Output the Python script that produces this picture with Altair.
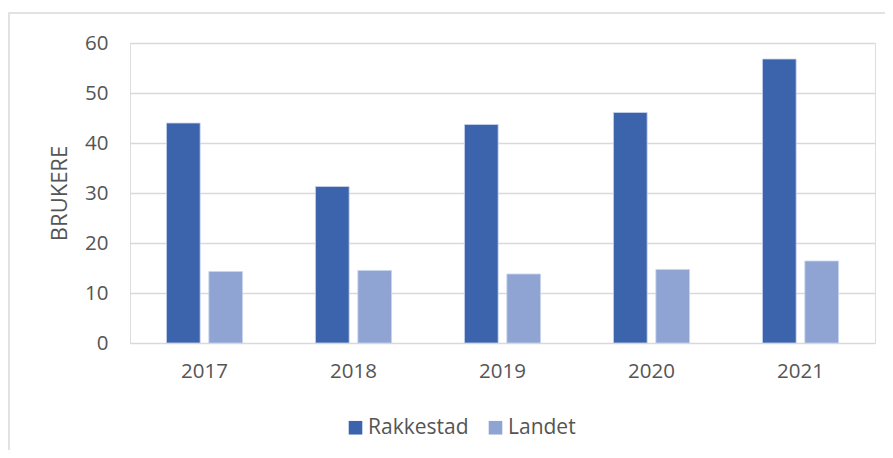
import altair as alt
import pandas as pd

years = ["2017", "2018", "2019", "2020", "2021"]
rakkestad = [44.0, 31.3, 43.7, 46.1, 56.8]
landet = [14.3, 14.5, 13.8, 14.7, 16.4]
series = ["Rakkestad", "Landet"]
colors = ["#3b64ad", "#90a4d4"]
y_ticks = [0, 10, 20, 30, 40, 50, 60]

rows = []
for i, y in enumerate(years):
    rows.append({"year": y, "serie": "Rakkestad", "value": rakkestad[i]})
    rows.append({"year": y, "serie": "Landet", "value": landet[i]})
df = pd.DataFrame(rows)

FONT = "Open Sans"
TXT = "#555555"

bars = alt.Chart(df).mark_bar(stroke="#c8d4ee", strokeWidth=0.8).encode(
    x=alt.X(
        "year:N",
        sort=years,
        scale=alt.Scale(paddingInner=0, paddingOuter=0),
        axis=alt.Axis(
            title=None, labelAngle=0, ticks=False, domain=False,
            labelPadding=18, labelFontSize=20.5, labelFont=FONT, labelColor=TXT,
        ),
    ),
    xOffset=alt.XOffset(
        "serie:N", sort=series,
        scale=alt.Scale(paddingInner=0.205, paddingOuter=0.86),
    ),
    y=alt.Y(
        "value:Q",
        scale=alt.Scale(domain=[0, 60], nice=False),
        axis=alt.Axis(
            values=y_ticks, title="BRUKERE", grid=True, gridColor="#d9d9d9",
            gridWidth=1.5, domain=False, ticks=False, labelPadding=22,
            labelFontSize=20.5, labelFont=FONT, labelColor=TXT,
            titleFont=FONT, titleFontSize=22, titleFontWeight="normal",
            titleColor=TXT, titleX=-64, titleY=150, titleAngle=270,
            titleAlign="center", titleBaseline="alphabetic",
        ),
    ),
    color=alt.Color(
        "serie:N",
        scale=alt.Scale(domain=series, range=colors),
        legend=alt.Legend(
            orient="none", legendX=215, legendY=374, direction="horizontal",
            title=None, symbolType="square", symbolSize=185,
            symbolStrokeWidth=0, labelFont=FONT, labelFontSize=21,
            labelColor=TXT, labelOffset=2, columnPadding=16, padding=0,
        ),
    ),
)

frame = alt.Chart(pd.DataFrame({"d": [0]})).mark_rect(
    fillOpacity=0, stroke="#d9d9d9", strokeWidth=1.5
).encode(
    x=alt.value(-121), x2=alt.value(800), y=alt.value(-30), y2=alt.value(470)
)

chart = alt.layer(frame, bars).properties(
    width=745,
    height=300,
    autosize=alt.AutoSizeParams(type="none"),
    padding={"left": 122, "top": 35, "right": 10, "bottom": 107},
).configure_view(stroke=None).configure(background="white")

chart.save("out.html", embed_options={"renderer": "svg", "actions": False})
